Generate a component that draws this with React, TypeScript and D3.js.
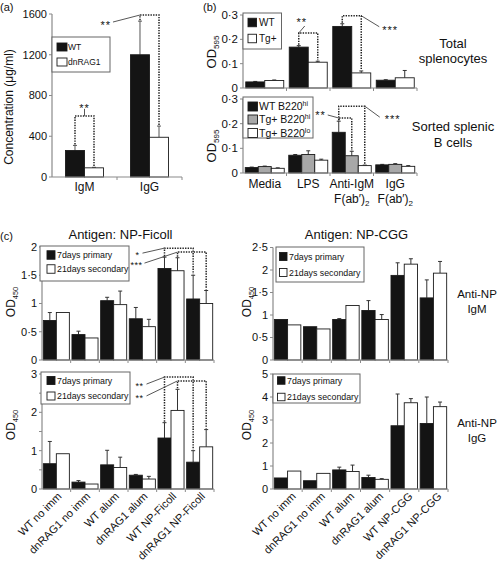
import React from 'react';
import * as d3 from 'd3';

const FONT = 'Arial, "Liberation Sans", Helvetica, sans-serif';
const BLACK = '#141414';
const GRAY = '#a8a8a8';
const WHITE = '#ffffff';
const AXIS = '#8a8a8a';
const INK = '#111111';

// ---------------- Panel (a) ----------------
const aCategories = ['IgM', 'IgG'];
const aWT = [260, 1200];
const aWTErr = [50, 330];
const aDn = [90, 390];
const aDnErr = [5, 110];
const aTicks = [0, 400, 800, 1200, 1600];

// ---------------- Panel (b) ----------------
const bCategories = ['Media', 'LPS', 'Anti-IgM', 'IgG'];
const bTotalWT = [0.025, 0.168, 0.253, 0.032];
const bTotalWTErr = [0.002, 0.006, 0.011, 0.002];
const bTotalTg = [0.031, 0.106, 0.062, 0.042];
const bTotalTgErr = [0.002, 0.004, 0.008, 0.03];
const bSortWT = [0.022, 0.072, 0.165, 0.033];
const bSortWTErr = [0.002, 0.003, 0.045, 0.002];
const bSortTgHi = [0.026, 0.075, 0.07, 0.035];
const bSortTgHiErr = [0.002, 0.015, 0.018, 0.003];
const bSortTgLo = [0.019, 0.052, 0.03, 0.027];
const bSortTgLoErr = [0.002, 0.004, 0.002, 0.003];
const bTicks = [0, 0.1, 0.2, 0.3];

// ---------------- Panel (c) ----------------
const ficollCategories = ['WT no imm', 'dnRAG1 no imm', 'WT alum', 'dnRAG1 alum', 'WT NP-Ficoll', 'dnRAG1 NP-Ficoll'];
const cggCategories = ['WT no imm', 'dnRAG1 no imm', 'WT alum', 'dnRAG1 alum', 'WT NP-CGG', 'dnRAG1 NP-CGG'];

const ficIgMPrim = [0.7, 0.45, 1.05, 0.73, 1.62, 1.08];
const ficIgMPrimErr = [0.14, 0.06, 0.06, 0.2, 0.2, 0.42];
const ficIgMSec = [0.84, 0.39, 0.98, 0.59, 1.58, 1.0];
const ficIgMSecErr = [0, 0, 0.24, 0.13, 0.23, 0.23];
const ficIgMTicks = [0, 0.5, 1, 1.5, 2];

const ficIgGPrim = [0.66, 0.18, 0.63, 0.36, 1.33, 0.7];
const ficIgGPrimErr = [0.58, 0.04, 0.38, 0.02, 0.4, 0.3];
const ficIgGSec = [0.92, 0.13, 0.56, 0.26, 2.05, 1.1];
const ficIgGSecErr = [0, 0, 0.27, 0.07, 0.55, 0.45];
const ficIgGTicks = [0, 1, 2, 3];
const ficIgGMinor = [0.5, 1.5, 2.5];

const cggIgMPrim = [0.9, 0.74, 0.9, 1.1, 1.88, 1.38];
const cggIgMPrimErr = [0, 0, 0.02, 0.22, 0.28, 0.4];
const cggIgMSec = [0.78, 0.69, 1.21, 0.9, 2.13, 1.93];
const cggIgMSecErr = [0, 0, 0, 0.11, 0.12, 0.26];
const cggIgMTicks = [0, 0.5, 1, 1.5, 2, 2.5];

const cggIgGPrim = [0.48, 0.36, 0.83, 0.5, 2.75, 2.85];
const cggIgGPrimErr = [0, 0, 0.12, 0.1, 1.38, 1.15];
const cggIgGSec = [0.78, 0.68, 0.76, 0.42, 3.75, 3.58];
const cggIgGSecErr = [0, 0, 0.28, 0.03, 0.18, 0.2];
const cggIgGTicks = [0, 1, 2, 3, 4, 5];

// ---------------- helpers ----------------
type Series = { values: number[]; errs: number[]; fill: string };
type PanelCfg = {
  cats: string[]; x0: number; x1: number; yTop: number; yBot: number; ymax: number; nSeries: number; padOuter: number;
};

function makePanel(c: PanelCfg) {
  const xg = d3.scaleBand<string>().domain(c.cats).range([c.x0, c.x1]).paddingInner(0).paddingOuter(0);
  const sub = d3.scaleBand<number>().domain(d3.range(c.nSeries)).range([0, xg.bandwidth()]).paddingInner(0).paddingOuter(c.padOuter);
  const y = d3.scaleLinear().domain([0, c.ymax]).range([c.yBot, c.yTop]);
  const bx = (gi: number, si: number) => (xg(c.cats[gi]) as number) + (sub(si) as number);
  const cx = (gi: number, si: number) => bx(gi, si) + sub.bandwidth() / 2;
  const gc = (gi: number) => (xg(c.cats[gi]) as number) + xg.bandwidth() / 2;
  return { ...c, xg, sub, y, bx, cx, gc };
}
type Panel = ReturnType<typeof makePanel>;

const fmtDot = (v: number) => String(v).replace('.', '·');

function Bars({ p, series, errColor = '#333' }: { p: Panel; series: Series[]; errColor?: string }) {
  return (
    <g>
      {series.map((s, si) =>
        s.values.map((v, gi) => {
          const x = p.bx(gi, si);
          const w = p.sub.bandwidth();
          const cx = x + w / 2;
          const top = p.y(v);
          const e = s.errs[gi];
          const et = p.y(v + e);
          return (
            <g key={`${si}-${gi}`}>
              {e > 0 && <line x1={cx} x2={cx} y1={top} y2={et} stroke={errColor} strokeWidth={1} />}
              {e > 0 && <line x1={cx - 2} x2={cx + 2} y1={et} y2={et} stroke={errColor} strokeWidth={1} />}
              <rect x={x} y={top} width={w} height={p.y(0) - top} fill={s.fill} stroke="#1a1a1a" strokeWidth={0.9} />
            </g>
          );
        })
      )}
    </g>
  );
}

function Axes({ p, ticks, minor = [], fs, fmt = fmtDot, gap = 2 }: {
  p: Panel; ticks: number[]; minor?: number[]; fs: number; fmt?: (v: number) => string; gap?: number;
}) {
  const bw = p.xg.bandwidth();
  return (
    <g>
      <line x1={p.x0} x2={p.x0} y1={p.yTop} y2={p.yBot} stroke={AXIS} strokeWidth={1.2} />
      <line x1={p.x0} x2={p.x1} y1={p.yBot} y2={p.yBot} stroke={AXIS} strokeWidth={1.2} />
      {ticks.map((t) => (
        <g key={`t${t}`}>
          <line x1={p.x0 - 3} x2={p.x0} y1={p.y(t)} y2={p.y(t)} stroke={AXIS} />
          <text x={p.x0 - 3 - gap} y={p.y(t)} dy="0.36em" textAnchor="end" fontSize={fs} fill={INK}>{fmt(t)}</text>
        </g>
      ))}
      {minor.map((t) => (
        <line key={`m${t}`} x1={p.x0 - 3} x2={p.x0} y1={p.y(t)} y2={p.y(t)} stroke={AXIS} />
      ))}
      {p.cats.map((c) => (
        <line key={`x${c}`} x1={(p.xg(c) as number) + bw} x2={(p.xg(c) as number) + bw} y1={p.yBot} y2={p.yBot + 3} stroke={AXIS} />
      ))}
    </g>
  );
}

type BracketSpec = {
  a: [number, number]; b: [number, number]; level: number;
  from: 'left' | 'right' | 'mid'; dx: number; dy: number; label: string; anchor: 'start' | 'end' | 'middle'; lx: number; ly: number;
};

function Bracket({ p, series, spec, fs = 11, ls = 1 }: { p: Panel; series: Series[]; spec: BracketSpec; fs?: number; ls?: number }) {
  const [ga, sa] = spec.a;
  const [gb, sb] = spec.b;
  const xa = p.cx(ga, sa);
  const xb = p.cx(gb, sb);
  const ya = p.y(series[sa].values[ga] + series[sa].errs[ga]);
  const yb = p.y(series[sb].values[gb] + series[sb].errs[gb]);
  const ly = p.y(spec.level);
  const sx = spec.from === 'left' ? xa : spec.from === 'right' ? xb : (xa + xb) / 2;
  const ex = sx + spec.dx;
  const ey = ly + spec.dy;
  return (
    <g>
      <path d={`M${xa},${ya - 1}V${ly}H${xb}V${yb - 1}`} fill="none" stroke="#222" strokeWidth={1.5} strokeDasharray="1.4 1.2" />
      <line x1={sx} y1={ly} x2={ex} y2={ey} stroke="#444" strokeWidth={0.9} />
      <text x={ex + spec.lx} y={ey + spec.ly} textAnchor={spec.anchor} fontSize={fs} fill={INK} letterSpacing={ls}>{spec.label}</text>
    </g>
  );
}

type LegendItem = { fill: string; label: React.ReactNode };
function Legend({ box, sq, rows, textX, fs, items }: {
  box: [number, number, number, number]; sq: [number, number, number]; rows: number[]; textX: number; fs: number; items: LegendItem[];
}) {
  const [bx, by, bw, bh] = box;
  const [sx, sw, sh] = sq;
  return (
    <g>
      <rect x={bx} y={by} width={bw} height={bh} fill="#fff" stroke="#666" strokeWidth={1} />
      {items.map((it, i) => (
        <g key={i}>
          <rect x={sx} y={rows[i] - sh / 2} width={sw} height={sh} fill={it.fill} stroke="#1a1a1a" strokeWidth={0.9} />
          <text x={textX} y={rows[i]} dy="0.36em" fontSize={fs} fill={INK}>{it.label}</text>
        </g>
      ))}
    </g>
  );
}

function YLabel({ x, y, fs, main, sub }: { x: number; y: number; fs: number; main: string; sub?: string }) {
  return (
    <text transform={`translate(${x},${y}) rotate(-90)`} textAnchor="middle" fontSize={fs} fill={INK}>
      {main}
      {sub && <tspan fontSize={fs * 0.62} dy={fs * 0.25}>{sub}</tspan>}
    </text>
  );
}

function RotLabels({ p, dx, dy, fs }: { p: Panel; dx: number; dy: number; fs: number }) {
  return (
    <g>
      {p.cats.map((c, i) => (
        <text key={c} transform={`translate(${p.gc(i) + dx},${p.yBot + dy}) rotate(-45)`} textAnchor="end" fontSize={fs} fill={INK}>{c}</text>
      ))}
    </g>
  );
}

// ---------------- App ----------------
export default function App() {
  // (a)
  const pa = makePanel({ cats: aCategories, x0: 52, x1: 182, yTop: 14, yBot: 177, ymax: 1600, nSeries: 2, padOuter: 0.71 });
  const sa: Series[] = [
    { values: aWT, errs: aWTErr, fill: BLACK },
    { values: aDn, errs: aDnErr, fill: WHITE },
  ];

  // (b)
  const pbT = makePanel({ cats: bCategories, x0: 243, x1: 417, yTop: 15, yBot: 88, ymax: 0.3, nSeries: 2, padOuter: 0.145 });
  const sbT: Series[] = [
    { values: bTotalWT, errs: bTotalWTErr, fill: BLACK },
    { values: bTotalTg, errs: bTotalTgErr, fill: WHITE },
  ];
  const pbB = makePanel({ cats: bCategories, x0: 243, x1: 417, yTop: 99, yBot: 173, ymax: 0.3, nSeries: 3, padOuter: 0.173 });
  const sbB: Series[] = [
    { values: bSortWT, errs: bSortWTErr, fill: BLACK },
    { values: bSortTgHi, errs: bSortTgHiErr, fill: GRAY },
    { values: bSortTgLo, errs: bSortTgLoErr, fill: WHITE },
  ];

  // (c)
  const pfM = makePanel({ cats: ficollCategories, x0: 42, x1: 214, yTop: 247, yBot: 360, ymax: 2, nSeries: 2, padOuter: 0.1 });
  const sfM: Series[] = [
    { values: ficIgMPrim, errs: ficIgMPrimErr, fill: BLACK },
    { values: ficIgMSec, errs: ficIgMSecErr, fill: WHITE },
  ];
  const pfG = makePanel({ cats: ficollCategories, x0: 42, x1: 214, yTop: 374, yBot: 489, ymax: 3, nSeries: 2, padOuter: 0.1 });
  const sfG: Series[] = [
    { values: ficIgGPrim, errs: ficIgGPrimErr, fill: BLACK },
    { values: ficIgGSec, errs: ficIgGSecErr, fill: WHITE },
  ];
  const pcM = makePanel({ cats: cggCategories, x0: 273, x1: 448, yTop: 247.5, yBot: 360, ymax: 2.5, nSeries: 2, padOuter: 0.1 });
  const scM: Series[] = [
    { values: cggIgMPrim, errs: cggIgMPrimErr, fill: BLACK },
    { values: cggIgMSec, errs: cggIgMSecErr, fill: WHITE },
  ];
  const pcG = makePanel({ cats: cggCategories, x0: 273, x1: 448, yTop: 374, yBot: 489, ymax: 5, nSeries: 2, padOuter: 0.1 });
  const scG: Series[] = [
    { values: cggIgGPrim, errs: cggIgGPrimErr, fill: BLACK },
    { values: cggIgGSec, errs: cggIgGSecErr, fill: WHITE },
  ];

  const primSec: LegendItem[] = [
    { fill: BLACK, label: '7days primary' },
    { fill: WHITE, label: '21days secondary' },
  ];

  return (
    <svg width={499} height={565} viewBox="0 0 499 565" style={{ position: 'absolute', left: 0, top: 0, background: '#fff' }} fontFamily={FONT}>
      <rect x={0} y={0} width={499} height={565} fill="#fff" />
      {/* ---- (a) ---- */}
      <text x={0} y={11} fontSize={11} fill={INK}>(a)</text>
      <Bars p={pa} series={sa} errColor="#555" />
      <Axes p={pa} ticks={aTicks} fs={11} fmt={(v) => String(v)} />
      {aCategories.map((c, i) => (
        <text key={c} x={pa.gc(i)} y={191} textAnchor="middle" fontSize={12} fill={INK}>{c}</text>
      ))}
      <text transform="translate(13,107) rotate(-90)" textAnchor="middle" fontSize={12} fill={INK}>Concentration (μg/ml)</text>
      <Legend box={[52, 37, 58, 35]} sq={[57, 10, 8]} rows={[47, 62]} textX={68} fs={8.5}
        items={[{ fill: BLACK, label: 'WT' }, { fill: WHITE, label: 'dnRAG1' }]} />
      <Bracket p={pa} series={sa} spec={{ a: [0, 0], b: [0, 1], level: 600, from: 'mid', dx: 0, dy: -7, label: '**', anchor: 'middle', lx: 0, ly: 3 }} />
      <Bracket p={pa} series={sa} spec={{ a: [1, 0], b: [1, 1], level: 1590, from: 'left', dx: -27, dy: 7, label: '**', anchor: 'end', lx: -2, ly: 7 }} />

      {/* ---- (b) ---- */}
      <text x={203} y={11} fontSize={11} fill={INK}>(b)</text>
      <Bars p={pbT} series={sbT} />
      <Axes p={pbT} ticks={bTicks} fs={11.5} />
      <Bars p={pbB} series={sbB} />
      <Axes p={pbB} ticks={bTicks} fs={11.5} />
      <YLabel x={216} y={52} fs={13} main="OD" sub="595" />
      <YLabel x={216} y={146} fs={13} main="OD" sub="595" />
      <Legend box={[243, 13, 38.5, 36]} sq={[248, 8.5, 8.5]} rows={[22.5, 38.5]} textX={259} fs={10}
        items={[{ fill: BLACK, label: 'WT' }, { fill: WHITE, label: 'Tg+' }]} />
      <Legend box={[243, 97, 70, 41]} sq={[248, 9.5, 9]} rows={[106.5, 119.5, 133]} textX={259} fs={10.5}
        items={[
          { fill: BLACK, label: <>WT B220<tspan fontSize={7} dy={-4}>hi</tspan></> },
          { fill: GRAY, label: <>Tg+ B220<tspan fontSize={7} dy={-4}>hi</tspan></> },
          { fill: WHITE, label: <>Tg+ B220<tspan fontSize={7} dy={-4}>lo</tspan></> },
        ]} />
      <Bracket p={pbT} series={sbT} spec={{ a: [1, 0], b: [1, 1], level: 0.226, from: 'left', dx: 6, dy: -7, label: '**', anchor: 'middle', lx: -3, ly: 0 }} />
      <Bracket p={pbT} series={sbT} spec={{ a: [2, 0], b: [2, 1], level: 0.297, from: 'right', dx: 18, dy: 11, label: '***', anchor: 'start', lx: 3, ly: 7 }} />
      <Bracket p={pbB} series={sbB} spec={{ a: [2, 0], b: [2, 2], level: 0.271, from: 'right', dx: 15, dy: 11, label: '***', anchor: 'start', lx: 5, ly: 6 }} />
      <Bracket p={pbB} series={sbB} spec={{ a: [2, 0], b: [2, 1], level: 0.223, from: 'left', dx: -11, dy: -3, label: '**', anchor: 'end', lx: -2, ly: 4 }} />
      {['Media', 'LPS', 'Anti-IgM', 'IgG'].map((c, i) => (
        <text key={c} x={pbB.gc(i)} y={188} textAnchor="middle" fontSize={12} fill={INK}>{c}</text>
      ))}
      {[2, 3].map((i) => (
        <text key={`fab${i}`} x={pbB.gc(i)} y={203} textAnchor="middle" fontSize={12} fill={INK}>
          F(ab′)<tspan fontSize={8} dy={3}>2</tspan>
        </text>
      ))}
      <text x={453} y={48} textAnchor="middle" fontSize={13} fill={INK}>Total</text>
      <text x={453} y={63} textAnchor="middle" fontSize={13} fill={INK}>splenocytes</text>
      <text x={453} y={131} textAnchor="middle" fontSize={13} fill={INK}>Sorted splenic</text>
      <text x={453} y={147} textAnchor="middle" fontSize={13} fill={INK}>B cells</text>

      {/* ---- (c) ---- */}
      <text x={0} y={240} fontSize={11} fill={INK}>(c)</text>
      <text x={120.5} y={239} textAnchor="middle" fontSize={13} fill={INK}>Antigen: NP-Ficoll</text>
      <text x={356.5} y={239} textAnchor="middle" fontSize={13} fill={INK}>Antigen: NP-CGG</text>

      <Bars p={pfM} series={sfM} />
      <Axes p={pfM} ticks={ficIgMTicks} fs={11} />
      <Bars p={pfG} series={sfG} />
      <Axes p={pfG} ticks={ficIgGTicks} minor={ficIgGMinor} fs={11} />
      <RotLabels p={pfG} dx={6} dy={8} fs={11} />
      <YLabel x={15} y={302} fs={12} main="OD" sub="450" />
      <YLabel x={15} y={425} fs={12} main="OD" sub="450" />
      <Legend box={[40, 246, 89, 35]} sq={[47, 8, 8.5]} rows={[255, 269]} textX={57} fs={8.8} items={primSec} />
      <Legend box={[41, 372, 89, 32]} sq={[47, 8, 8]} rows={[380.5, 396]} textX={57} fs={8.8} items={primSec} />
      <Bracket p={pfM} series={sfM} fs={9} ls={0.5} spec={{ a: [4, 0], b: [5, 0], level: 1.98, from: 'left', dx: -22, dy: 5, label: '*', anchor: 'end', lx: -3, ly: 5 }} />
      <Bracket p={pfM} series={sfM} fs={9} ls={0.5} spec={{ a: [4, 1], b: [5, 1], level: 1.91, from: 'left', dx: -33, dy: 11, label: '***', anchor: 'end', lx: -2, ly: 5 }} />
      <Bracket p={pfG} series={sfG} fs={9} ls={0.5} spec={{ a: [4, 0], b: [5, 0], level: 2.92, from: 'left', dx: -18, dy: 7, label: '**', anchor: 'end', lx: -3, ly: 5 }} />
      <Bracket p={pfG} series={sfG} fs={9} ls={0.5} spec={{ a: [4, 1], b: [5, 1], level: 2.82, from: 'left', dx: -31, dy: 15, label: '**', anchor: 'end', lx: -3, ly: 5 }} />

      <Bars p={pcM} series={scM} />
      <Axes p={pcM} ticks={cggIgMTicks} fs={11} />
      <Bars p={pcG} series={scG} />
      <Axes p={pcG} ticks={cggIgGTicks} fs={11} />
      <RotLabels p={pcG} dx={9} dy={8} fs={11} />
      <YLabel x={251} y={302} fs={12} main="OD" sub="450" />
      <YLabel x={251} y={425} fs={12} main="OD" sub="450" />
      <Legend box={[276, 247, 88, 35]} sq={[279.5, 7.5, 8]} rows={[256.5, 272.5]} textX={289} fs={8.8} items={primSec} />
      <Legend box={[273, 374, 87, 29]} sq={[277.5, 7.5, 7.5]} rows={[380.5, 397]} textX={287} fs={8.8} items={primSec} />
      <text x={477} y={298} textAnchor="middle" fontSize={11.5} fill={INK}>Anti-NP</text>
      <text x={477} y={313} textAnchor="middle" fontSize={11.5} fill={INK}>IgM</text>
      <text x={477} y={427} textAnchor="middle" fontSize={11.5} fill={INK}>Anti-NP</text>
      <text x={477} y={442} textAnchor="middle" fontSize={11.5} fill={INK}>IgG</text>
    </svg>
  );
}
